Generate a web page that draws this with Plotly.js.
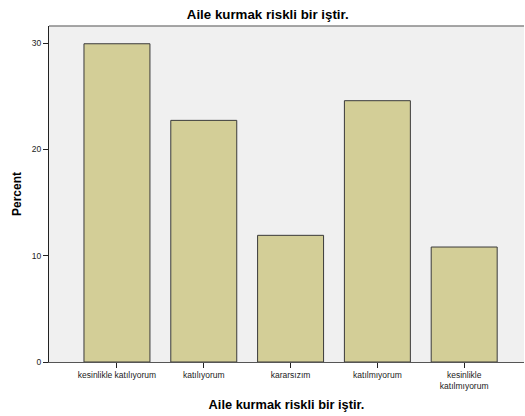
<!DOCTYPE html>
<html>
<head>
<meta charset="utf-8">
<script src="https://cdn.plot.ly/plotly-3.0.1.min.js"></script>
<style>html,body{margin:0;padding:0;background:#fff;}#chart{width:525px;height:416px;}</style>
</head>
<body>
<div id="chart"></div>
<script>
const categories = ["kesinlikle katılıyorum", "katılıyorum", "kararsızım", "katılmıyorum", "kesinlikle katılmıyorum"];
const tickLabels = ["kesinlikle katılıyorum", "katılıyorum", "kararsızım", "katılmıyorum", "kesinlikle<br>katılmıyorum"];
const percents = [29.95, 22.74, 11.92, 24.59, 10.82];
const yTicks = [0, 10, 20, 30];

const font = "Liberation Sans, Arial, sans-serif";

const trace = {
  type: "bar",
  x: categories,
  y: percents,
  marker: {color: "#d3ce97", line: {color: "#3a3a3a", width: 1}},
  hoverinfo: "none"
};

const layout = {
  width: 525, height: 416,
  margin: {l: 49, r: 1, t: 25.5, b: 53.7, pad: 0},
  paper_bgcolor: "#ffffff",
  plot_bgcolor: "#f0f0f0",
  bargap: 0.24,
  showlegend: false,
  font: {family: font, color: "#222", size: 9},
  title: {text: "Aile kurmak riskli bir iştir.", font: {family: font, size: 13.3, color: "#000", weight: "bold"}, x: 0.51, xanchor: "center", y: 0.966, yanchor: "middle"},
  xaxis: {
    type: "category",
    range: [-0.783, 4.689],
    tickmode: "array", tickvals: categories, ticktext: tickLabels,
    ticks: "outside", ticklen: 5, tickcolor: "#222", tickwidth: 1,
    showline: true, linecolor: "#555", linewidth: 1,
    showgrid: false, zeroline: false,
    tickfont: {family: font, size: 8.5, color: "#222"},
    title: {text: "Aile kurmak riskli bir iştir.", font: {family: font, size: 12.8, color: "#000", weight: "bold"}, standoff: 9},
    automargin: false, fixedrange: true
  },
  yaxis: {
    range: [0, 31.62],
    tickmode: "array", tickvals: yTicks,
    ticks: "outside", ticklen: 5, tickcolor: "#222", tickwidth: 1,
    showline: true, linecolor: "#222", linewidth: 1,
    showgrid: false, zeroline: false,
    tickfont: {family: font, size: 8.5, color: "#222"},
    title: {text: "Percent", font: {family: font, size: 12, color: "#000", weight: "bold"}, standoff: 7},
    automargin: false, fixedrange: true
  },
  shapes: [
    {type: "line", xref: "paper", yref: "paper", x0: 0, x1: 1, y0: 1, y1: 1, line: {color: "#888", width: 1.5}}
  ]
};

Plotly.newPlot("chart", [trace], layout, {displayModeBar: false, staticPlot: true});
</script>
</body>
</html>
